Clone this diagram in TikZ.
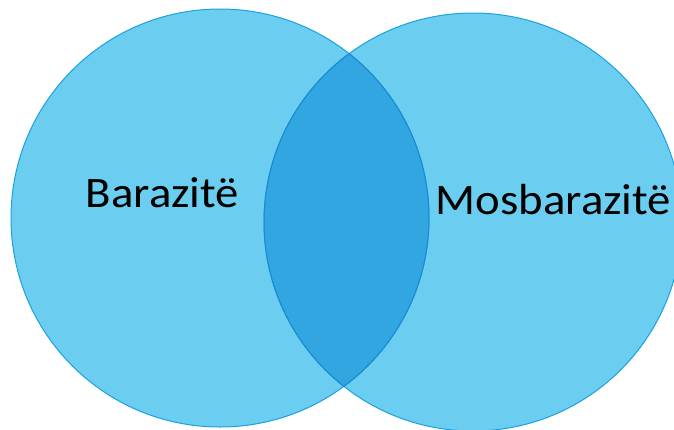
\documentclass[tikz,border=0pt]{standalone}
\usepackage{fontspec}
\usepackage{graphicx}
\setmainfont{Carlito}
\definecolor{vfill}{HTML}{6BCDF0}
\definecolor{vlens}{HTML}{31A6E1}
\definecolor{vline}{HTML}{1BA1E2}
\definecolor{vlinein}{HTML}{1A8AD3}
\newcommand{\vtext}[1]{\scalebox{1.075}[1]{#1}}
\begin{document}
\begin{tikzpicture}[x=1pt,y=-1pt,
  setfill/.style={circle, minimum size=418pt, inner sep=0pt, fill=vfill},
  setline/.style={circle, minimum size=418pt, inner sep=0pt, draw=vline, line width=1pt},
  lbl/.style={anchor=base, inner sep=0pt, font=\fontsize{43.5}{43.5}\selectfont}]
\useasboundingbox (0,0) rectangle (674,429);
\node[setfill] (L) at (220,218) {};
\node[setfill] (R) at (473,222) {};
\begin{scope}
  \clip (L.center) circle (209);
  \fill[vlens] (R.center) circle (209);
\end{scope}
\node[setline] (Lb) at (L.center) {};
\node[setline] (Rb) at (R.center) {};
\begin{scope}
  \clip (R.center) circle (209);
  \draw[vlinein, line width=1pt] (L.center) circle (209);
\end{scope}
\begin{scope}
  \clip (L.center) circle (209);
  \draw[vlinein, line width=1pt] (R.center) circle (209);
\end{scope}
\node[lbl] (bt) at (162.5,207.5) {\vtext{Barazitë}};
\node[lbl] (mt) at (553.5,214) {\vtext{Mosbarazitë}};
\end{tikzpicture}
\end{document}
